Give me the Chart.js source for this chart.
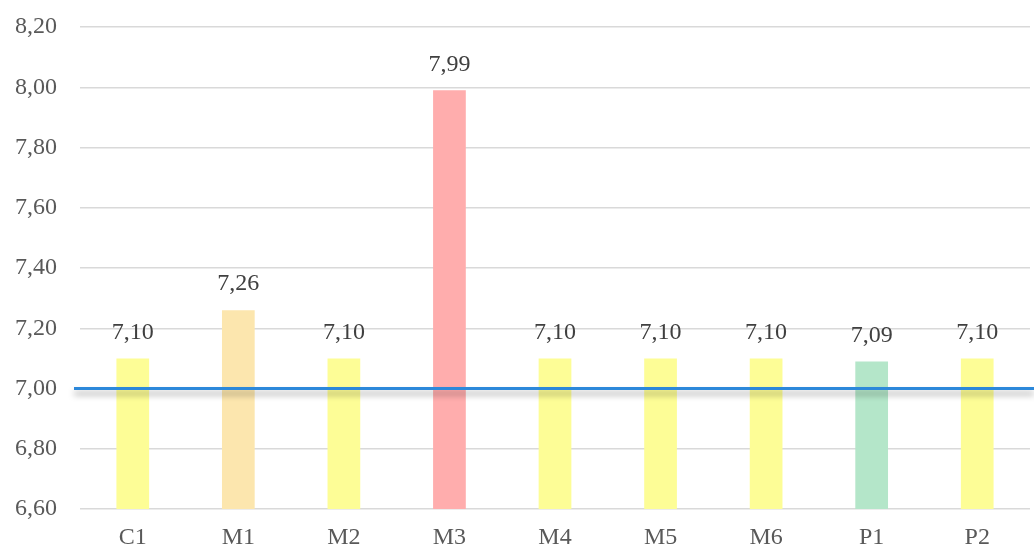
<!DOCTYPE html>
<html>
<head>
<meta charset="utf-8">
<script src="https://cdn.jsdelivr.net/npm/chart.js@4.4.0/dist/chart.umd.min.js"></script>
<style>
  html, body { margin: 0; padding: 0; background: #fff; }
  #wrap { width: 1034px; height: 552px; }
</style>
</head>
<body>
<div id="wrap"><canvas id="chart"></canvas></div>
<script>
// data
const categories = ['C1', 'M1', 'M2', 'M3', 'M4', 'M5', 'M6', 'P1', 'P2'];
const values = [7.10, 7.26, 7.10, 7.99, 7.10, 7.10, 7.10, 7.09, 7.10];
const barColors = ['#FDFD96', '#FCE6AE', '#FDFD96', '#FFADAD', '#FDFD96', '#FDFD96', '#FDFD96', '#B4E6C9', '#FDFD96'];
const yTicks = { min: 6.60, max: 8.20, step: 0.20 };
const threshold = 7.00;

const fmt = v => v.toFixed(2).replace('.', ',');
const FONT = '"Liberation Serif", "DejaVu Serif", serif';

// value labels above each bar
const barLabels = {
  id: 'barLabels',
  afterDatasetsDraw(chart) {
    const { ctx } = chart;
    const meta = chart.getDatasetMeta(0);
    ctx.save();
    ctx.font = '24px ' + FONT;
    ctx.fillStyle = '#404040';
    ctx.textAlign = 'center';
    ctx.textBaseline = 'bottom';
    meta.data.forEach((bar, i) => {
      ctx.fillText(fmt(values[i]), bar.x, bar.y - 14);
    });
    ctx.restore();
  }
};

// blue reference line at 7,00 with a soft shadow
const refLine = {
  id: 'refLine',
  afterDatasetsDraw(chart) {
    const { ctx, chartArea } = chart;
    const y = chart.scales.y.getPixelForValue(threshold);
    ctx.save();
    ctx.shadowColor = 'rgba(0,0,0,0.35)';
    ctx.shadowBlur = 6;
    ctx.shadowOffsetY = 5;
    ctx.strokeStyle = '#2C88DA';
    ctx.lineWidth = 2.8;
    ctx.beginPath();
    ctx.moveTo(chartArea.left - 6, y);
    ctx.lineTo(chart.width, y);
    ctx.stroke();
    ctx.restore();
  }
};

new Chart(document.getElementById('chart'), {
  type: 'bar',
  data: {
    labels: categories,
    datasets: [{
      data: values,
      backgroundColor: barColors,
      borderWidth: 0,
      barPercentage: 0.31,
      categoryPercentage: 1.0,
    }],
  },
  options: {
    responsive: true, maintainAspectRatio: false,
    animation: false,
    layout: { padding: { top: 27, right: 4, left: 0, bottom: 0 } },
    plugins: {
      legend: { display: false },
      tooltip: { enabled: false },
    },
    scales: {
      x: {
        grid: { display: false },
        border: { display: false },
        ticks: { color: '#595959', font: { family: FONT, size: 24 }, padding: 6 },
        afterFit: s => { s.height = 43; s.paddingLeft = 0; s.paddingRight = 0; },
      },
      y: {
        min: yTicks.min, max: yTicks.max,
        grid: { color: '#D9D9D9', lineWidth: 1.5, drawTicks: false },
        border: { display: false },
        ticks: {
          stepSize: yTicks.step,
          color: '#595959',
          font: { family: FONT, size: 24 },
          padding: 23,
          callback: v => fmt(v),
        },
        afterFit: s => { s.width = 80; s.paddingTop = 0; s.paddingBottom = 0; },
      },
    },
  },
  plugins: [barLabels, refLine],
});
</script>
</body>
</html>
